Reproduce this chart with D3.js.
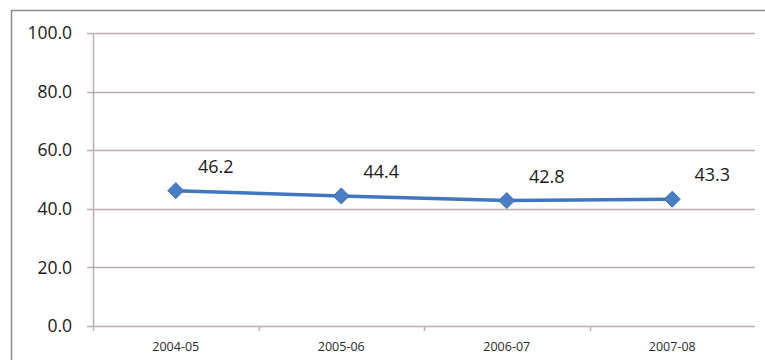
<!DOCTYPE html>
<html>
<head>
<meta charset="utf-8">
<script src="https://cdn.jsdelivr.net/npm/d3@7"></script>
<style>
  html, body { margin: 0; padding: 0; background: #fff; }
  svg { display: block; }
</style>
</head>
<body>
<svg id="chart" width="765" height="360"></svg>
<script>
// Yearly values
const categories = ["2004-05", "2005-06", "2006-07", "2007-08"];
const values = [46.2, 44.4, 42.8, 43.3];
const yTicks = [0, 20, 40, 60, 80, 100];

const svg = d3.select("#chart");
const W = 765, H = 360;
const plot = { left: 93, right: 755, top: 33, bottom: 326 };
const gridColor = "#bcaeae";
const fontFamily = "'Open Sans', 'Liberation Sans', sans-serif";

// Outer chart frame
svg.append("rect")
  .attr("x", 11.5).attr("y", 10.5)
  .attr("width", W).attr("height", H)
  .attr("fill", "none").attr("stroke", "#8c8c8c").attr("stroke-width", 1.5);

const x = d3.scaleBand().domain(categories).range([plot.left, plot.right]).padding(0);
const y = d3.scaleLinear().domain([0, 100]).range([plot.bottom, plot.top]);

// Horizontal gridlines
svg.append("g")
  .selectAll("line")
  .data(yTicks)
  .join("line")
  .attr("x1", plot.left - 6).attr("x2", plot.right)
  .attr("y1", d => Math.round(y(d)) + 0.5).attr("y2", d => Math.round(y(d)) + 0.5)
  .attr("stroke", gridColor).attr("stroke-width", 1.5);

// Y axis line
svg.append("line")
  .attr("x1", plot.left + 0.5).attr("x2", plot.left + 0.5)
  .attr("y1", plot.top).attr("y2", plot.bottom + 5)
  .attr("stroke", gridColor).attr("stroke-width", 1.5);

// Y tick labels
svg.append("g")
  .selectAll("text")
  .data(yTicks)
  .join("text")
  .attr("x", plot.left - 21)
  .attr("y", d => y(d))
  .attr("dy", "0.35em")
  .attr("text-anchor", "end")
  .attr("font-family", fontFamily)
  .attr("font-size", 17.5)
  .attr("fill", "#1a1a1a")
  .text(d => d3.format(".1f")(d));

// Category boundary ticks
svg.append("g")
  .selectAll("line")
  .data(categories.slice(1))
  .join("line")
  .attr("x1", d => Math.round(x(d)) + 0.5).attr("x2", d => Math.round(x(d)) + 0.5)
  .attr("y1", plot.bottom).attr("y2", plot.bottom + 5)
  .attr("stroke", gridColor).attr("stroke-width", 1.5);

// X category labels
svg.append("g")
  .selectAll("text")
  .data(categories)
  .join("text")
  .attr("x", d => x(d) + x.bandwidth() / 2)
  .attr("y", 351)
  .attr("text-anchor", "middle")
  .attr("font-family", fontFamily)
  .attr("font-size", 12.5)
  .attr("fill", "#2a2a2a")
  .text(d => d);

const pts = categories.map((c, i) => ({ c, v: values[i] }));
const cx = d => x(d.c) + x.bandwidth() / 2;

// Series line
svg.append("path")
  .datum(pts)
  .attr("d", d3.line().x(cx).y(d => y(d.v)))
  .attr("fill", "none")
  .attr("stroke", "#3f76c0")
  .attr("stroke-width", 3.5);

// Diamond markers
svg.append("g")
  .selectAll("path")
  .data(pts)
  .join("path")
  .attr("transform", d => `translate(${cx(d)},${y(d.v)})`)
  .attr("d", "M0,-8L8,0L0,8L-8,0Z")
  .attr("fill", "#4a7ec4")
  .attr("stroke", "#3d6fb5")
  .attr("stroke-width", 1);

// Value labels
svg.append("g")
  .selectAll("text")
  .data(pts)
  .join("text")
  .attr("x", d => cx(d) + 40)
  .attr("y", d => y(d.v) - 18)
  .attr("text-anchor", "middle")
  .attr("font-family", fontFamily)
  .attr("font-size", 18)
  .attr("fill", "#1a1a1a")
  .text(d => d3.format(".1f")(d.v));
</script>
</body>
</html>
